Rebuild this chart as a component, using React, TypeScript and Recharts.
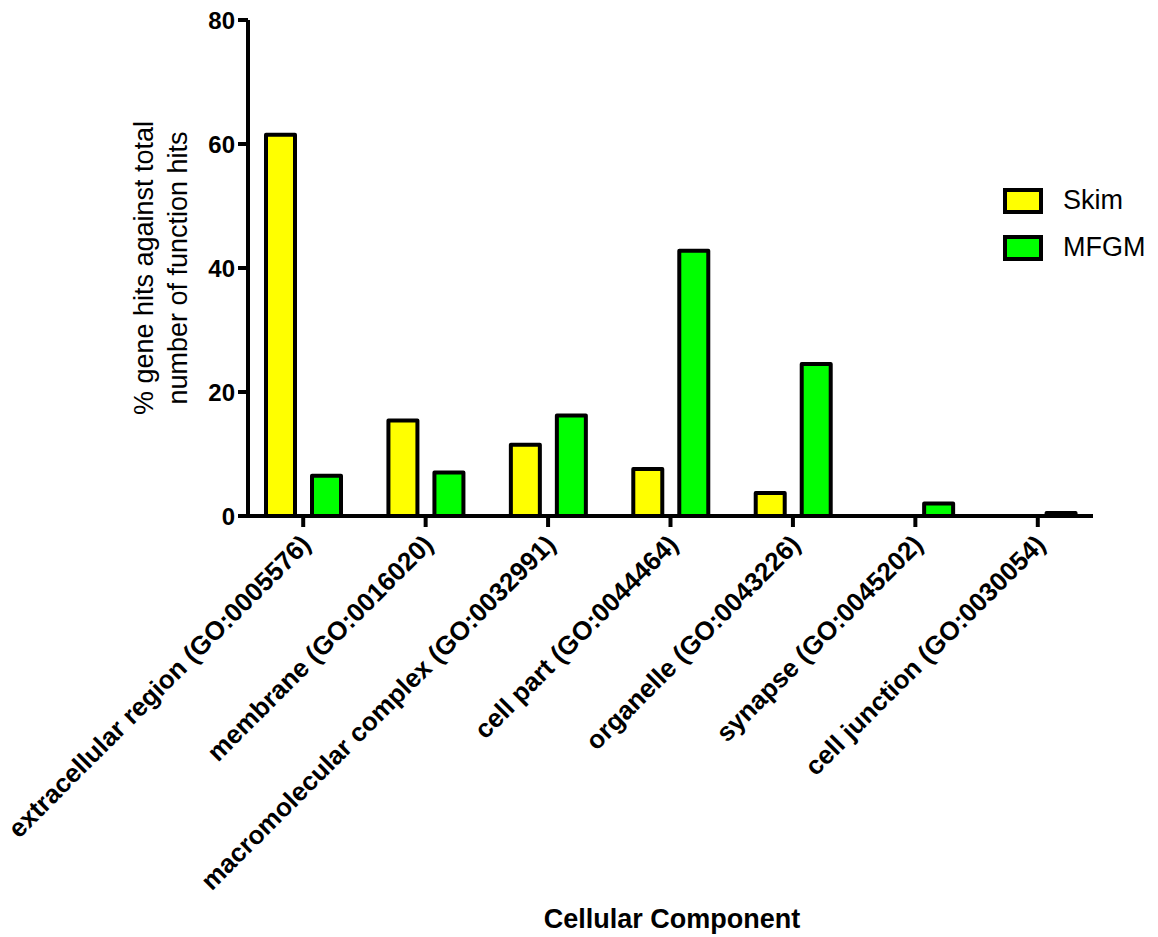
import { Bar, BarChart, Label, Legend, XAxis, YAxis } from "recharts";

const categories = [
  "extracellular region (GO:0005576)",
  "membrane (GO:0016020)",
  "macromolecular complex (GO:0032991)",
  "cell part (GO:0044464)",
  "organelle (GO:0043226)",
  "synapse (GO:0045202)",
  "cell junction (GO:0030054)",
];
const skimValues = [61.5, 15.4, 11.5, 7.6, 3.7, 0, 0];
const mfgmValues = [6.5, 7.0, 16.2, 42.8, 24.5, 2.0, 0.5];
const yTicks = [0, 20, 40, 60, 80];
const legendOrder = ["Skim", "MFGM"];

const FONT = '"Liberation Sans", Arial, Helvetica, sans-serif';

const data = categories.map((name, i) => ({
  name,
  skim: skimValues[i],
  mfgm: mfgmValues[i],
}));

function CategoryTick({ x, y, payload }: any) {
  const ax = x + 9;
  const ay = y + 17;
  return (
    <text
      x={ax}
      y={ay}
      transform={`rotate(-45, ${ax}, ${ay})`}
      textAnchor="end"
      fontFamily={FONT}
      fontWeight="bold"
      fontSize={26}
      fill="#000"
    >
      {payload.value}
    </text>
  );
}

function YTitle({ viewBox }: any) {
  const cy = viewBox.y + viewBox.height / 2;
  const x1 = 153;
  const x2 = 187;
  return (
    <g fontFamily={FONT} fontSize={27} fill="#000">
      <text x={x1} y={cy} transform={`rotate(-90, ${x1}, ${cy})`} textAnchor="middle">
        % gene hits against total
      </text>
      <text x={x2} y={cy} transform={`rotate(-90, ${x2}, ${cy})`} textAnchor="middle">
        number of function hits
      </text>
    </g>
  );
}

function XTitle({ viewBox }: any) {
  return (
    <text
      x={672}
      y={viewBox.y + 412}
      textAnchor="middle"
      fontFamily={FONT}
      fontWeight="bold"
      fontSize={27}
      fill="#000"
    >
      Cellular Component
    </text>
  );
}

function LegendBox({ payload }: any) {
  const items = [...(payload ?? [])].sort(
    (a: any, b: any) => legendOrder.indexOf(a.value) - legendOrder.indexOf(b.value)
  );
  return (
    <div style={{ fontFamily: FONT, fontSize: 27, color: "#000" }}>
      {items.map((p: any) => (
        <div
          key={p.value}
          style={{ display: "flex", alignItems: "center", height: 47 }}
        >
          <div
            style={{
              width: 32,
              height: 18,
              border: "4px solid #000",
              background: p.color,
              marginRight: 20,
            }}
          />
          <span>{p.value}</span>
        </div>
      ))}
    </div>
  );
}

export default function App() {
  return (
    <div style={{ position: "absolute", left: 0, top: 0, width: 1158, height: 937, background: "#fff" }}>
      <BarChart
        width={1158}
        height={937}
        data={data}
        margin={{ top: 20, right: 65, bottom: 0, left: 188 }}
        barSize={29}
        barGap={17}
      >
        <XAxis
          dataKey="name"
          height={421}
          interval={0}
          padding={{ left: -6, right: -6 }}
          axisLine={{ stroke: "#000", strokeWidth: 4 }}
          tickLine={{ stroke: "#000", strokeWidth: 4 }}
          tickSize={11}
          tick={<CategoryTick />}
        >
          <Label content={<XTitle />} />
        </XAxis>
        <YAxis
          width={60}
          domain={[0, 80]}
          ticks={yTicks}
          interval={0}
          axisLine={{ stroke: "#000", strokeWidth: 4 }}
          tickLine={{ stroke: "#000", strokeWidth: 4 }}
          tickSize={10}
          tickMargin={3}
          tick={{ fill: "#000", fontSize: 24, fontWeight: "bold", fontFamily: FONT }}
        >
          <Label content={<YTitle />} />
        </YAxis>
        <Legend
          layout="vertical"
          align="center"
          verticalAlign="middle"
          content={<LegendBox />}
          wrapperStyle={{ left: 1003, top: 177, width: 155 }}
        />
        <Bar
          dataKey="skim"
          name="Skim"
          fill="#ffff00"
          stroke="#000"
          strokeWidth={4}
          strokeLinejoin="round"
          isAnimationActive={false}
        />
        <Bar
          dataKey="mfgm"
          name="MFGM"
          fill="#00ff00"
          stroke="#000"
          strokeWidth={4}
          strokeLinejoin="round"
          isAnimationActive={false}
        />
      </BarChart>
    </div>
  );
}
